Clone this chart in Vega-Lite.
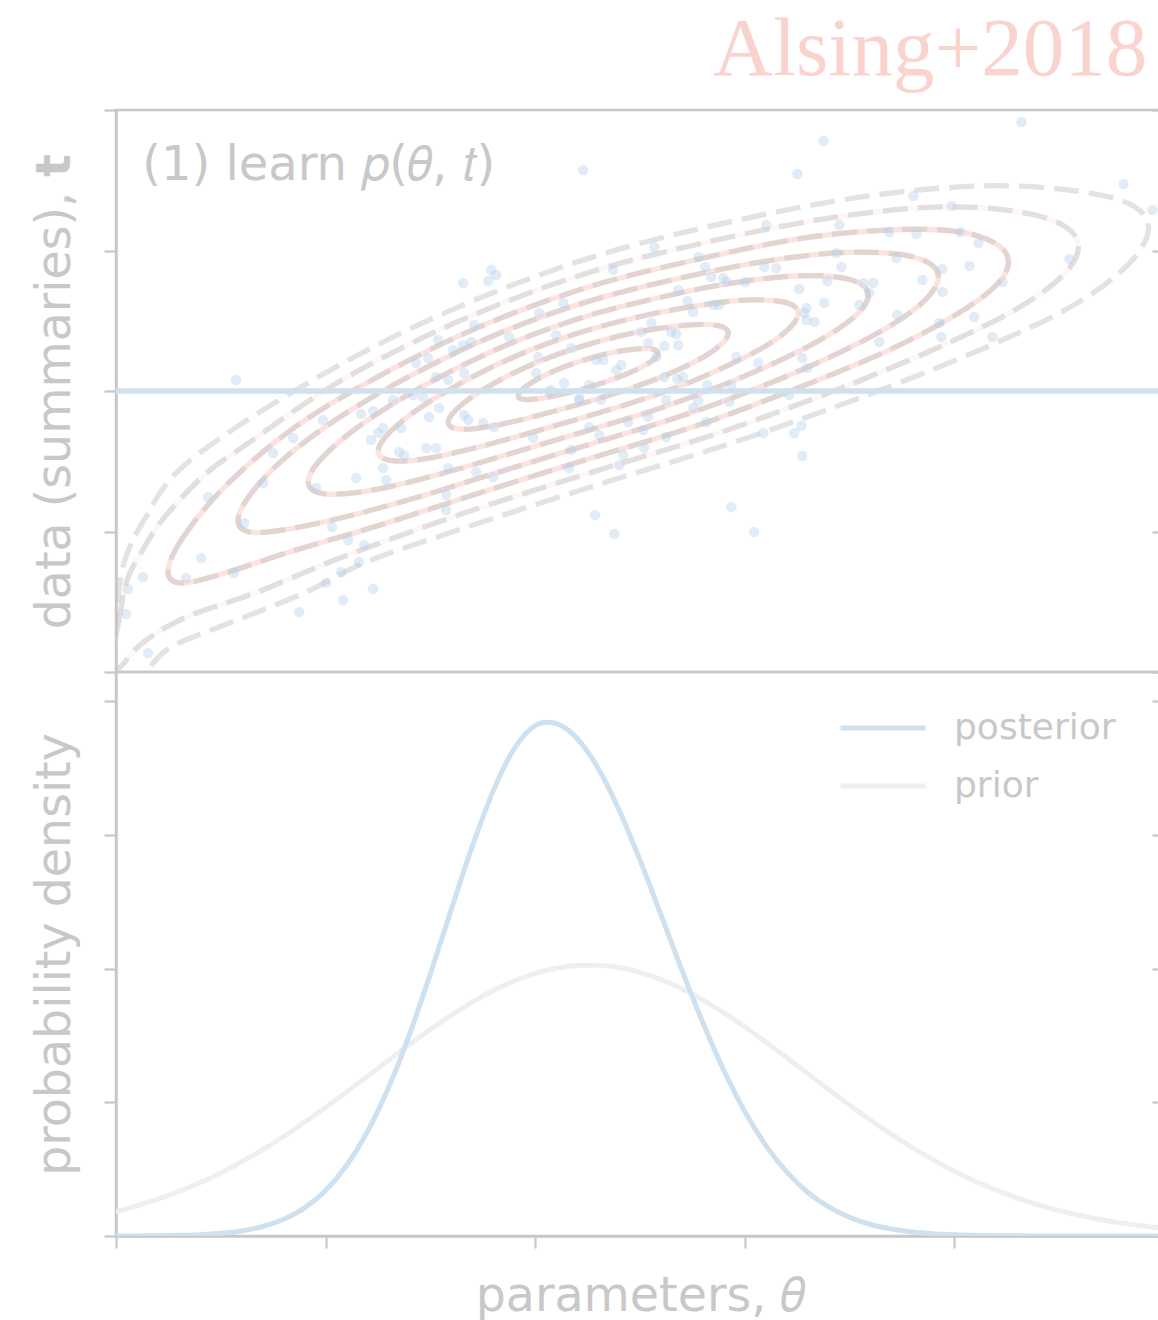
{
  "$schema": "https://vega.github.io/schema/vega-lite/v6.json",
  "background": "white",
  "autosize": {"type": "pad"},
  "padding": {"left": 30, "top": 7, "right": 0, "bottom": 0},
  "config": {
    "font": "DejaVu Sans",
    "view": {"stroke": "#c8c8c8", "strokeWidth": 2.5},
    "axis": {
      "grid": false,
      "labels": false,
      "domainColor": "#c8c8c8",
      "domainWidth": 2.5,
      "tickColor": "#c8c8c8",
      "tickWidth": 2.2,
      "tickSize": 12,
      "titleColor": "#c8c8c8",
      "titleFont": "DejaVu Sans",
      "titleFontSize": 47.5,
      "titleFontWeight": "normal"
    }
  },
  "spacing": 0,
  "bounds": "flush",
  "datasets": {
    "contours": [
      {"level": 1, "i": 0, "theta": 1.919, "t": 1.967}, {"level": 1, "i": 1, "theta": 1.930, "t": 1.998},
      {"level": 1, "i": 2, "theta": 1.964, "t": 2.041}, {"level": 1, "i": 3, "theta": 2.017, "t": 2.089},
      {"level": 1, "i": 4, "theta": 2.086, "t": 2.140}, {"level": 1, "i": 5, "theta": 2.166, "t": 2.187},
      {"level": 1, "i": 6, "theta": 2.253, "t": 2.230}, {"level": 1, "i": 7, "theta": 2.340, "t": 2.265},
      {"level": 1, "i": 8, "theta": 2.420, "t": 2.288}, {"level": 1, "i": 9, "theta": 2.489, "t": 2.300},
      {"level": 1, "i": 10, "theta": 2.542, "t": 2.301}, {"level": 1, "i": 11, "theta": 2.576, "t": 2.289},
      {"level": 1, "i": 12, "theta": 2.587, "t": 2.268}, {"level": 1, "i": 13, "theta": 2.576, "t": 2.237},
      {"level": 1, "i": 14, "theta": 2.542, "t": 2.199}, {"level": 1, "i": 15, "theta": 2.489, "t": 2.156},
      {"level": 1, "i": 16, "theta": 2.420, "t": 2.112}, {"level": 1, "i": 17, "theta": 2.340, "t": 2.067},
      {"level": 1, "i": 18, "theta": 2.253, "t": 2.026}, {"level": 1, "i": 19, "theta": 2.166, "t": 1.989},
      {"level": 1, "i": 20, "theta": 2.086, "t": 1.964}, {"level": 1, "i": 21, "theta": 2.017, "t": 1.945},
      {"level": 1, "i": 22, "theta": 1.964, "t": 1.939}, {"level": 1, "i": 23, "theta": 1.930, "t": 1.946},

      {"level": 2, "i": 0, "theta": 1.585, "t": 1.778}, {"level": 2, "i": 1, "theta": 1.608, "t": 1.844},
      {"level": 2, "i": 2, "theta": 1.674, "t": 1.932}, {"level": 2, "i": 3, "theta": 1.781, "t": 2.035},
      {"level": 2, "i": 4, "theta": 1.919, "t": 2.144}, {"level": 2, "i": 5, "theta": 2.080, "t": 2.246},
      {"level": 2, "i": 6, "theta": 2.253, "t": 2.332}, {"level": 2, "i": 7, "theta": 2.426, "t": 2.399},
      {"level": 2, "i": 8, "theta": 2.587, "t": 2.445}, {"level": 2, "i": 9, "theta": 2.725, "t": 2.469},
      {"level": 2, "i": 10, "theta": 2.832, "t": 2.473}, {"level": 2, "i": 11, "theta": 2.898, "t": 2.454},
      {"level": 2, "i": 12, "theta": 2.921, "t": 2.411}, {"level": 2, "i": 13, "theta": 2.898, "t": 2.348},
      {"level": 2, "i": 14, "theta": 2.832, "t": 2.269}, {"level": 2, "i": 15, "theta": 2.725, "t": 2.181},
      {"level": 2, "i": 16, "theta": 2.587, "t": 2.091}, {"level": 2, "i": 17, "theta": 2.426, "t": 2.005},
      {"level": 2, "i": 18, "theta": 2.253, "t": 1.924}, {"level": 2, "i": 19, "theta": 2.080, "t": 1.852},
      {"level": 2, "i": 20, "theta": 1.919, "t": 1.790}, {"level": 2, "i": 21, "theta": 1.781, "t": 1.747},
      {"level": 2, "i": 22, "theta": 1.674, "t": 1.728}, {"level": 2, "i": 23, "theta": 1.608, "t": 1.738},

      {"level": 3, "i": 0, "theta": 1.251, "t": 1.572}, {"level": 3, "i": 1, "theta": 1.285, "t": 1.673},
      {"level": 3, "i": 2, "theta": 1.385, "t": 1.809}, {"level": 3, "i": 3, "theta": 1.544, "t": 1.969},
      {"level": 3, "i": 4, "theta": 1.752, "t": 2.140}, {"level": 3, "i": 5, "theta": 1.993, "t": 2.301},
      {"level": 3, "i": 6, "theta": 2.253, "t": 2.434}, {"level": 3, "i": 7, "theta": 2.513, "t": 2.534},
      {"level": 3, "i": 8, "theta": 2.754, "t": 2.602}, {"level": 3, "i": 9, "theta": 2.962, "t": 2.644},
      {"level": 3, "i": 10, "theta": 3.121, "t": 2.646}, {"level": 3, "i": 11, "theta": 3.221, "t": 2.617},
      {"level": 3, "i": 12, "theta": 3.255, "t": 2.553}, {"level": 3, "i": 13, "theta": 3.221, "t": 2.459},
      {"level": 3, "i": 14, "theta": 3.121, "t": 2.340}, {"level": 3, "i": 15, "theta": 2.962, "t": 2.212},
      {"level": 3, "i": 16, "theta": 2.754, "t": 2.072}, {"level": 3, "i": 17, "theta": 2.513, "t": 1.942},
      {"level": 3, "i": 18, "theta": 2.253, "t": 1.822}, {"level": 3, "i": 19, "theta": 1.993, "t": 1.709},
      {"level": 3, "i": 20, "theta": 1.752, "t": 1.610}, {"level": 3, "i": 21, "theta": 1.544, "t": 1.537},
      {"level": 3, "i": 22, "theta": 1.385, "t": 1.503}, {"level": 3, "i": 23, "theta": 1.285, "t": 1.515},

      {"level": 4, "i": 0, "theta": 0.917, "t": 1.352}, {"level": 4, "i": 1, "theta": 0.962, "t": 1.489},
      {"level": 4, "i": 2, "theta": 1.096, "t": 1.677}, {"level": 4, "i": 3, "theta": 1.308, "t": 1.896},
      {"level": 4, "i": 4, "theta": 1.585, "t": 2.131}, {"level": 4, "i": 5, "theta": 1.907, "t": 2.354},
      {"level": 4, "i": 6, "theta": 2.253, "t": 2.536}, {"level": 4, "i": 7, "theta": 2.599, "t": 2.667},
      {"level": 4, "i": 8, "theta": 2.921, "t": 2.764}, {"level": 4, "i": 9, "theta": 3.198, "t": 2.815},
      {"level": 4, "i": 10, "theta": 3.410, "t": 2.816}, {"level": 4, "i": 11, "theta": 3.544, "t": 2.770},
      {"level": 4, "i": 12, "theta": 3.589, "t": 2.681}, {"level": 4, "i": 13, "theta": 3.544, "t": 2.558},
      {"level": 4, "i": 14, "theta": 3.410, "t": 2.408}, {"level": 4, "i": 15, "theta": 3.198, "t": 2.239},
      {"level": 4, "i": 16, "theta": 2.921, "t": 2.058}, {"level": 4, "i": 17, "theta": 2.599, "t": 1.879},
      {"level": 4, "i": 18, "theta": 2.253, "t": 1.720}, {"level": 4, "i": 19, "theta": 1.907, "t": 1.566},
      {"level": 4, "i": 20, "theta": 1.585, "t": 1.425}, {"level": 4, "i": 21, "theta": 1.308, "t": 1.320},
      {"level": 4, "i": 22, "theta": 1.096, "t": 1.269}, {"level": 4, "i": 23, "theta": 0.962, "t": 1.277},

      {"level": 5, "i": 0, "theta": 0.582, "t": 1.076}, {"level": 5, "i": 1, "theta": 0.639, "t": 1.260},
      {"level": 5, "i": 2, "theta": 0.806, "t": 1.523}, {"level": 5, "i": 3, "theta": 1.072, "t": 1.818},
      {"level": 5, "i": 4, "theta": 1.418, "t": 2.119}, {"level": 5, "i": 5, "theta": 1.820, "t": 2.406},
      {"level": 5, "i": 6, "theta": 2.253, "t": 2.638}, {"level": 5, "i": 7, "theta": 2.686, "t": 2.802},
      {"level": 5, "i": 8, "theta": 3.088, "t": 2.921}, {"level": 5, "i": 9, "theta": 3.434, "t": 2.983},
      {"level": 5, "i": 10, "theta": 3.700, "t": 2.979}, {"level": 5, "i": 11, "theta": 3.867, "t": 2.921},
      {"level": 5, "i": 12, "theta": 3.924, "t": 2.811}, {"level": 5, "i": 13, "theta": 3.867, "t": 2.657},
      {"level": 5, "i": 14, "theta": 3.700, "t": 2.469}, {"level": 5, "i": 15, "theta": 3.434, "t": 2.261},
      {"level": 5, "i": 16, "theta": 3.088, "t": 2.037}, {"level": 5, "i": 17, "theta": 2.686, "t": 1.816},
      {"level": 5, "i": 18, "theta": 2.253, "t": 1.618}, {"level": 5, "i": 19, "theta": 1.820, "t": 1.420},
      {"level": 5, "i": 20, "theta": 1.418, "t": 1.235}, {"level": 5, "i": 21, "theta": 1.072, "t": 1.096},
      {"level": 5, "i": 22, "theta": 0.806, "t": 1.013}, {"level": 5, "i": 23, "theta": 0.639, "t": 0.996},

      {"level": 6, "i": 0, "theta": 0.248, "t": 0.712}, {"level": 6, "i": 1, "theta": 0.317, "t": 0.951},
      {"level": 6, "i": 2, "theta": 0.517, "t": 1.315}, {"level": 6, "i": 3, "theta": 0.836, "t": 1.724},
      {"level": 6, "i": 4, "theta": 1.251, "t": 2.102}, {"level": 6, "i": 5, "theta": 1.734, "t": 2.456},
      {"level": 6, "i": 6, "theta": 2.253, "t": 2.740}, {"level": 6, "i": 7, "theta": 2.772, "t": 2.936},
      {"level": 6, "i": 8, "theta": 3.255, "t": 3.083}, {"level": 6, "i": 9, "theta": 3.670, "t": 3.145},
      {"level": 6, "i": 10, "theta": 3.989, "t": 3.139}, {"level": 6, "i": 11, "theta": 4.189, "t": 3.056},
      {"level": 6, "i": 12, "theta": 4.258, "t": 2.918}, {"level": 6, "i": 13, "theta": 4.189, "t": 2.738},
      {"level": 6, "i": 14, "theta": 3.989, "t": 2.527}, {"level": 6, "i": 15, "theta": 3.670, "t": 2.279},
      {"level": 6, "i": 16, "theta": 3.255, "t": 2.023}, {"level": 6, "i": 17, "theta": 2.772, "t": 1.754},
      {"level": 6, "i": 18, "theta": 2.253, "t": 1.516}, {"level": 6, "i": 19, "theta": 1.734, "t": 1.274},
      {"level": 6, "i": 20, "theta": 1.251, "t": 1.042}, {"level": 6, "i": 21, "theta": 0.836, "t": 0.858},
      {"level": 6, "i": 22, "theta": 0.517, "t": 0.703}, {"level": 6, "i": 23, "theta": 0.317, "t": 0.633},

      {"level": 7, "i": 0, "theta": -0.035, "t": -0.030}, {"level": 7, "i": 1, "theta": 0.014, "t": 0.370},
      {"level": 7, "i": 2, "theta": 0.053, "t": 0.655}, {"level": 7, "i": 3, "theta": 0.120, "t": 0.850},
      {"level": 7, "i": 4, "theta": 0.228, "t": 1.095}, {"level": 7, "i": 5, "theta": 0.420, "t": 1.400},
      {"level": 7, "i": 6, "theta": 0.600, "t": 1.597}, {"level": 7, "i": 7, "theta": 1.084, "t": 2.083},
      {"level": 7, "i": 8, "theta": 1.647, "t": 2.504}, {"level": 7, "i": 9, "theta": 2.253, "t": 2.842},
      {"level": 7, "i": 10, "theta": 2.859, "t": 3.073}, {"level": 7, "i": 11, "theta": 3.422, "t": 3.235},
      {"level": 7, "i": 12, "theta": 3.906, "t": 3.309}, {"level": 7, "i": 13, "theta": 4.278, "t": 3.282},
      {"level": 7, "i": 14, "theta": 4.512, "t": 3.185}, {"level": 7, "i": 15, "theta": 4.592, "t": 3.025},
      {"level": 7, "i": 16, "theta": 4.512, "t": 2.815}, {"level": 7, "i": 17, "theta": 4.278, "t": 2.568},
      {"level": 7, "i": 18, "theta": 3.906, "t": 2.299}, {"level": 7, "i": 19, "theta": 3.422, "t": 1.999},
      {"level": 7, "i": 20, "theta": 2.859, "t": 1.693}, {"level": 7, "i": 21, "theta": 2.253, "t": 1.414},
      {"level": 7, "i": 22, "theta": 1.647, "t": 1.124}, {"level": 7, "i": 23, "theta": 1.084, "t": 0.820},
      {"level": 7, "i": 24, "theta": 0.659, "t": 0.560}, {"level": 7, "i": 25, "theta": 0.340, "t": 0.394},
      {"level": 7, "i": 26, "theta": 0.134, "t": 0.216}, {"level": 7, "i": 27, "theta": 0.022, "t": 0.038},

      {"level": 8, "i": 0, "theta": -0.050, "t": -0.200}, {"level": 8, "i": 1, "theta": -0.010, "t": 0.250},
      {"level": 8, "i": 2, "theta": 0.005, "t": 0.463}, {"level": 8, "i": 3, "theta": 0.038, "t": 0.776},
      {"level": 8, "i": 4, "theta": 0.134, "t": 1.082}, {"level": 8, "i": 5, "theta": 0.339, "t": 1.488},
      {"level": 8, "i": 6, "theta": 0.917, "t": 2.059}, {"level": 8, "i": 7, "theta": 1.561, "t": 2.551},
      {"level": 8, "i": 8, "theta": 2.253, "t": 2.944}, {"level": 8, "i": 9, "theta": 2.945, "t": 3.209},
      {"level": 8, "i": 10, "theta": 3.589, "t": 3.388}, {"level": 8, "i": 11, "theta": 4.143, "t": 3.460},
      {"level": 8, "i": 12, "theta": 4.568, "t": 3.426}, {"level": 8, "i": 13, "theta": 4.835, "t": 3.331},
      {"level": 8, "i": 14, "theta": 4.926, "t": 3.160}, {"level": 8, "i": 15, "theta": 4.835, "t": 2.909},
      {"level": 8, "i": 16, "theta": 4.568, "t": 2.610}, {"level": 8, "i": 17, "theta": 4.143, "t": 2.306},
      {"level": 8, "i": 18, "theta": 3.589, "t": 1.974}, {"level": 8, "i": 19, "theta": 2.945, "t": 1.633},
      {"level": 8, "i": 20, "theta": 2.253, "t": 1.312}, {"level": 8, "i": 21, "theta": 1.561, "t": 0.975},
      {"level": 8, "i": 22, "theta": 1.184, "t": 0.776}, {"level": 8, "i": 23, "theta": 0.897, "t": 0.562},
      {"level": 8, "i": 24, "theta": 0.578, "t": 0.370}, {"level": 8, "i": 25, "theta": 0.263, "t": 0.178},
      {"level": 8, "i": 26, "theta": 0.143, "t": 0.000}, {"level": 8, "i": 27, "theta": 0.070, "t": -0.100}
    ],
    "samples": [
      {"theta": 2.229, "t": 3.573}, {"theta": 0.573, "t": 2.078}, {"theta": 1.656, "t": 2.769}, {"theta": 1.790, "t": 2.861},
      {"theta": 1.814, "t": 2.826}, {"theta": 1.776, "t": 2.783}, {"theta": 2.372, "t": 2.861}, {"theta": 2.134, "t": 2.626},
      {"theta": 2.019, "t": 2.555}, {"theta": 1.709, "t": 2.470}, {"theta": 1.876, "t": 2.384}, {"theta": 2.100, "t": 2.399},
      {"theta": 1.537, "t": 2.363}, {"theta": 1.609, "t": 2.292}, {"theta": 1.656, "t": 2.327}, {"theta": 1.695, "t": 2.349},
      {"theta": 1.489, "t": 2.235}, {"theta": 1.432, "t": 2.199}, {"theta": 2.172, "t": 2.306}, {"theta": 2.291, "t": 2.221},
      {"theta": 2.325, "t": 2.221}, {"theta": 2.411, "t": 2.185}, {"theta": 2.387, "t": 2.149}, {"theta": 2.014, "t": 2.242},
      {"theta": 1.661, "t": 2.128}, {"theta": 1.527, "t": 2.100}, {"theta": 1.585, "t": 2.078}, {"theta": 2.005, "t": 2.128},
      {"theta": 2.138, "t": 2.057}, {"theta": 2.258, "t": 2.043}, {"theta": 2.067, "t": 1.993}, {"theta": 2.210, "t": 1.950},
      {"theta": 4.320, "t": 3.915}, {"theta": 3.375, "t": 3.779}, {"theta": 3.251, "t": 3.544}, {"theta": 4.807, "t": 3.473},
      {"theta": 3.804, "t": 3.388}, {"theta": 3.986, "t": 3.317}, {"theta": 4.945, "t": 3.288}, {"theta": 3.103, "t": 3.181},
      {"theta": 3.451, "t": 3.181}, {"theta": 2.568, "t": 3.025}, {"theta": 3.690, "t": 3.132}, {"theta": 3.819, "t": 3.117},
      {"theta": 4.029, "t": 3.132}, {"theta": 4.115, "t": 3.053}, {"theta": 2.778, "t": 2.954}, {"theta": 3.437, "t": 2.982},
      {"theta": 3.723, "t": 2.947}, {"theta": 2.811, "t": 2.883}, {"theta": 3.093, "t": 2.883}, {"theta": 3.150, "t": 2.875},
      {"theta": 3.461, "t": 2.883}, {"theta": 4.072, "t": 2.890}, {"theta": 3.943, "t": 2.868}, {"theta": 2.840, "t": 2.811},
      {"theta": 2.897, "t": 2.804}, {"theta": 2.912, "t": 2.776}, {"theta": 3.002, "t": 2.776}, {"theta": 3.394, "t": 2.783},
      {"theta": 3.847, "t": 2.790}, {"theta": 4.229, "t": 2.776}, {"theta": 4.549, "t": 2.940}, {"theta": 2.683, "t": 2.719},
      {"theta": 3.260, "t": 2.726}, {"theta": 3.566, "t": 2.769}, {"theta": 3.613, "t": 2.769}, {"theta": 3.594, "t": 2.698},
      {"theta": 3.943, "t": 2.705}, {"theta": 2.726, "t": 2.641}, {"theta": 3.379, "t": 2.626}, {"theta": 3.547, "t": 2.612},
      {"theta": 2.850, "t": 2.612}, {"theta": 2.878, "t": 2.612}, {"theta": 2.754, "t": 2.562}, {"theta": 3.294, "t": 2.591},
      {"theta": 3.284, "t": 2.555}, {"theta": 3.294, "t": 2.505}, {"theta": 3.332, "t": 2.491}, {"theta": 3.728, "t": 2.541},
      {"theta": 4.095, "t": 2.527}, {"theta": 2.554, "t": 2.484}, {"theta": 3.928, "t": 2.484}, {"theta": 2.649, "t": 2.420},
      {"theta": 2.673, "t": 2.406}, {"theta": 2.539, "t": 2.342}, {"theta": 2.616, "t": 2.320}, {"theta": 2.683, "t": 2.327},
      {"theta": 3.642, "t": 2.349}, {"theta": 3.938, "t": 2.384}, {"theta": 4.181, "t": 2.384}, {"theta": 2.506, "t": 2.420},
      {"theta": 2.959, "t": 2.242}, {"theta": 3.064, "t": 2.199}, {"theta": 3.274, "t": 2.235}, {"theta": 3.298, "t": 2.164},
      {"theta": 2.616, "t": 2.100}, {"theta": 2.706, "t": 2.100}, {"theta": 2.678, "t": 2.085}, {"theta": 2.821, "t": 2.043},
      {"theta": 2.936, "t": 2.043}, {"theta": 3.212, "t": 1.972}, {"theta": 2.625, "t": 1.936}, {"theta": 2.578, "t": 2.242},
      {"theta": 0.988, "t": 1.794}, {"theta": 1.169, "t": 1.836}, {"theta": 1.227, "t": 1.858}, {"theta": 1.322, "t": 1.936},
      {"theta": 1.418, "t": 1.972}, {"theta": 1.465, "t": 1.957}, {"theta": 1.542, "t": 1.879}, {"theta": 1.494, "t": 1.815},
      {"theta": 1.661, "t": 1.829}, {"theta": 1.680, "t": 1.794}, {"theta": 1.752, "t": 1.772}, {"theta": 1.804, "t": 1.744},
      {"theta": 2.210, "t": 1.936}, {"theta": 2.315, "t": 1.936}, {"theta": 2.258, "t": 1.744}, {"theta": 2.305, "t": 1.687},
      {"theta": 2.444, "t": 1.779}, {"theta": 2.076, "t": 2.007}, {"theta": 1.990, "t": 1.665}, {"theta": 2.420, "t": 1.544},
      {"theta": 2.401, "t": 1.473}, {"theta": 2.172, "t": 1.580}, {"theta": 2.162, "t": 1.452}, {"theta": 1.274, "t": 1.737},
      {"theta": 1.251, "t": 1.701}, {"theta": 1.217, "t": 1.651}, {"theta": 1.360, "t": 1.737}, {"theta": 1.480, "t": 1.594},
      {"theta": 1.527, "t": 1.594}, {"theta": 1.351, "t": 1.566}, {"theta": 1.375, "t": 1.544}, {"theta": 1.274, "t": 1.452},
      {"theta": 1.289, "t": 1.367}, {"theta": 1.146, "t": 1.381}, {"theta": 1.585, "t": 1.452}, {"theta": 1.718, "t": 1.423},
      {"theta": 1.800, "t": 1.388}, {"theta": 1.575, "t": 1.260}, {"theta": 1.575, "t": 1.153}, {"theta": 0.749, "t": 1.559},
      {"theta": 0.845, "t": 1.665}, {"theta": 0.702, "t": 1.345}, {"theta": 0.955, "t": 1.310}, {"theta": 0.439, "t": 1.246},
      {"theta": 0.611, "t": 1.060}, {"theta": 1.031, "t": 1.032}, {"theta": 1.107, "t": 0.940}, {"theta": 1.184, "t": 0.904},
      {"theta": 0.406, "t": 0.811}, {"theta": 0.563, "t": 0.705}, {"theta": 0.334, "t": 0.669}, {"theta": 0.129, "t": 0.676},
      {"theta": 0.057, "t": 0.591}, {"theta": 0.048, "t": 0.413}, {"theta": 1.160, "t": 0.783}, {"theta": 1.074, "t": 0.712},
      {"theta": 1.002, "t": 0.633}, {"theta": 1.227, "t": 0.591}, {"theta": 1.084, "t": 0.512}, {"theta": 0.874, "t": 0.427},
      {"theta": 0.153, "t": 0.135}, {"theta": 2.286, "t": 1.117}, {"theta": 2.377, "t": 0.982}, {"theta": 2.778, "t": 1.929},
      {"theta": 2.926, "t": 1.922}, {"theta": 2.539, "t": 1.815}, {"theta": 2.754, "t": 1.879}, {"theta": 2.816, "t": 1.779},
      {"theta": 2.516, "t": 1.722}, {"theta": 2.625, "t": 1.673}, {"theta": 2.520, "t": 1.594}, {"theta": 3.088, "t": 1.701},
      {"theta": 3.270, "t": 1.751}, {"theta": 3.236, "t": 1.701}, {"theta": 3.274, "t": 1.537}, {"theta": 2.936, "t": 1.174},
      {"theta": 3.045, "t": 0.996}
    ],
    "densities": [
      {"curve": "prior", "theta": 0.0, "density": 0.183}, {"curve": "prior", "theta": 0.1, "density": 0.226},
      {"curve": "prior", "theta": 0.2, "density": 0.275}, {"curve": "prior", "theta": 0.3, "density": 0.333},
      {"curve": "prior", "theta": 0.4, "density": 0.398}, {"curve": "prior", "theta": 0.5, "density": 0.472},
      {"curve": "prior", "theta": 0.6, "density": 0.555}, {"curve": "prior", "theta": 0.7, "density": 0.645},
      {"curve": "prior", "theta": 0.8, "density": 0.744}, {"curve": "prior", "theta": 0.9, "density": 0.850},
      {"curve": "prior", "theta": 1.0, "density": 0.961}, {"curve": "prior", "theta": 1.1, "density": 1.077},
      {"curve": "prior", "theta": 1.2, "density": 1.195}, {"curve": "prior", "theta": 1.3, "density": 1.314},
      {"curve": "prior", "theta": 1.4, "density": 1.432}, {"curve": "prior", "theta": 1.5, "density": 1.545},
      {"curve": "prior", "theta": 1.6, "density": 1.652}, {"curve": "prior", "theta": 1.7, "density": 1.749},
      {"curve": "prior", "theta": 1.8, "density": 1.835}, {"curve": "prior", "theta": 1.9, "density": 1.907},
      {"curve": "prior", "theta": 2.0, "density": 1.963}, {"curve": "prior", "theta": 2.1, "density": 2.002},
      {"curve": "prior", "theta": 2.2, "density": 2.023}, {"curve": "prior", "theta": 2.3, "density": 2.024},
      {"curve": "prior", "theta": 2.4, "density": 2.007}, {"curve": "prior", "theta": 2.5, "density": 1.971},
      {"curve": "prior", "theta": 2.6, "density": 1.917}, {"curve": "prior", "theta": 2.7, "density": 1.848},
      {"curve": "prior", "theta": 2.8, "density": 1.764}, {"curve": "prior", "theta": 2.9, "density": 1.668},
      {"curve": "prior", "theta": 3.0, "density": 1.563}, {"curve": "prior", "theta": 3.1, "density": 1.451},
      {"curve": "prior", "theta": 3.2, "density": 1.334}, {"curve": "prior", "theta": 3.3, "density": 1.214},
      {"curve": "prior", "theta": 3.4, "density": 1.096}, {"curve": "prior", "theta": 3.5, "density": 0.979},
      {"curve": "prior", "theta": 3.6, "density": 0.867}, {"curve": "prior", "theta": 3.7, "density": 0.760},
      {"curve": "prior", "theta": 3.8, "density": 0.661}, {"curve": "prior", "theta": 3.9, "density": 0.569},
      {"curve": "prior", "theta": 4.0, "density": 0.485}, {"curve": "prior", "theta": 4.1, "density": 0.409},
      {"curve": "prior", "theta": 4.2, "density": 0.343}, {"curve": "prior", "theta": 4.3, "density": 0.284},
      {"curve": "prior", "theta": 4.4, "density": 0.233}, {"curve": "prior", "theta": 4.5, "density": 0.190},
      {"curve": "prior", "theta": 4.6, "density": 0.153}, {"curve": "prior", "theta": 4.7, "density": 0.122},
      {"curve": "prior", "theta": 4.8, "density": 0.0964}, {"curve": "prior", "theta": 4.9, "density": 0.0755},
      {"curve": "prior", "theta": 5.0, "density": 0.059},

      {"curve": "posterior", "theta": 0.0, "density": 0.0004}, {"curve": "posterior", "theta": 0.1, "density": 0.0009},
      {"curve": "posterior", "theta": 0.2, "density": 0.0022}, {"curve": "posterior", "theta": 0.3, "density": 0.0047},
      {"curve": "posterior", "theta": 0.4, "density": 0.0099}, {"curve": "posterior", "theta": 0.5, "density": 0.020},
      {"curve": "posterior", "theta": 0.6, "density": 0.038}, {"curve": "posterior", "theta": 0.7, "density": 0.071},
      {"curve": "posterior", "theta": 0.8, "density": 0.125}, {"curve": "posterior", "theta": 0.9, "density": 0.210},
      {"curve": "posterior", "theta": 1.0, "density": 0.340}, {"curve": "posterior", "theta": 1.1, "density": 0.527},
      {"curve": "posterior", "theta": 1.2, "density": 0.781}, {"curve": "posterior", "theta": 1.3, "density": 1.108},
      {"curve": "posterior", "theta": 1.4, "density": 1.506}, {"curve": "posterior", "theta": 1.5, "density": 1.961},
      {"curve": "posterior", "theta": 1.6, "density": 2.443}, {"curve": "posterior", "theta": 1.7, "density": 2.914},
      {"curve": "posterior", "theta": 1.8, "density": 3.330}, {"curve": "posterior", "theta": 1.9, "density": 3.643},
      {"curve": "posterior", "theta": 2.0, "density": 3.816}, {"curve": "posterior", "theta": 2.05, "density": 3.842},
      {"curve": "posterior", "theta": 2.1, "density": 3.832}, {"curve": "posterior", "theta": 2.2, "density": 3.720},
      {"curve": "posterior", "theta": 2.3, "density": 3.498}, {"curve": "posterior", "theta": 2.4, "density": 3.186},
      {"curve": "posterior", "theta": 2.5, "density": 2.810}, {"curve": "posterior", "theta": 2.6, "density": 2.402},
      {"curve": "posterior", "theta": 2.7, "density": 1.988}, {"curve": "posterior", "theta": 2.8, "density": 1.594},
      {"curve": "posterior", "theta": 2.9, "density": 1.238}, {"curve": "posterior", "theta": 3.0, "density": 0.931},
      {"curve": "posterior", "theta": 3.1, "density": 0.678}, {"curve": "posterior", "theta": 3.2, "density": 0.479},
      {"curve": "posterior", "theta": 3.3, "density": 0.327}, {"curve": "posterior", "theta": 3.4, "density": 0.217},
      {"curve": "posterior", "theta": 3.5, "density": 0.139}, {"curve": "posterior", "theta": 3.6, "density": 0.086},
      {"curve": "posterior", "theta": 3.7, "density": 0.052}, {"curve": "posterior", "theta": 3.8, "density": 0.030},
      {"curve": "posterior", "theta": 3.9, "density": 0.017}, {"curve": "posterior", "theta": 4.0, "density": 0.0093},
      {"curve": "posterior", "theta": 4.2, "density": 0.0025}, {"curve": "posterior", "theta": 4.4, "density": 0.0006},
      {"curve": "posterior", "theta": 4.6, "density": 0.0001}, {"curve": "posterior", "theta": 4.8, "density": 0.0},
      {"curve": "posterior", "theta": 5.0, "density": 0.0}
    ]
  },
  "vconcat": [
    {
      "width": 1048,
      "height": 562,
      "layer": [
        {
          "data": {"name": "contours"},
          "transform": [{"filter": "datum.level <= 6"}],
          "mark": {"type": "line", "interpolate": "cardinal-closed", "strokeWidth": 5.3, "color": "#fcdad4", "opacity": 0.75, "clip": true},
          "encoding": {
            "x": {"field": "theta", "type": "quantitative", "scale": {"domain": [0, 5], "nice": false, "zero": false}, "axis": null},
            "y": {"field": "t", "type": "quantitative", "scale": {"domain": [0, 4], "nice": false, "zero": false},
                  "axis": {"orient": "left", "values": [0, 1, 2, 3, 4], "title": "data (summaries), 𝘁", "titlePadding": 23}},
            "detail": {"field": "level", "type": "ordinal"},
            "order": {"field": "i", "type": "quantitative"}
          }
        },
        {
          "data": {"name": "contours"},
          "transform": [{"filter": "datum.level == 7"}],
          "mark": {"type": "line", "interpolate": "cardinal-closed", "strokeWidth": 5.3, "color": "#fcdad4", "opacity": 0.22, "clip": true},
          "encoding": {
            "x": {"field": "theta", "type": "quantitative"},
            "y": {"field": "t", "type": "quantitative"},
            "detail": {"field": "level", "type": "ordinal"},
            "order": {"field": "i", "type": "quantitative"}
          }
        },
        {
          "data": {"name": "contours"},
          "mark": {"type": "line", "interpolate": "cardinal-closed", "strokeWidth": 5.3, "color": "#c2c2c2", "opacity": 0.45, "strokeDash": [25, 10], "clip": true},
          "encoding": {
            "x": {"field": "theta", "type": "quantitative"},
            "y": {"field": "t", "type": "quantitative"},
            "detail": {"field": "level", "type": "ordinal"},
            "order": {"field": "i", "type": "quantitative"}
          }
        },
        {
          "data": {"name": "samples"},
          "mark": {"type": "circle", "size": 110, "color": "#b4d0ea", "opacity": 0.4, "clip": true},
          "encoding": {
            "x": {"field": "theta", "type": "quantitative"},
            "y": {"field": "t", "type": "quantitative",
                  "axis": {"orient": "right", "values": [0, 1, 2, 3, 4], "title": null, "domain": false, "offset": -12}}
          }
        },
        {
          "data": {"values": [{"t_obs": 2.0}]},
          "mark": {"type": "rule", "color": "#cfe1ee", "strokeWidth": 5.5},
          "encoding": {"y": {"field": "t_obs", "type": "quantitative"}}
        },
        {
          "data": {"values": [{}]},
          "mark": {"type": "text", "text": "(1) learn 𝑝(𝜃, 𝑡)", "align": "left", "baseline": "alphabetic", "font": "DejaVu Sans", "fontSize": 48, "color": "#c8c8c8"},
          "encoding": {"x": {"datum": 0.125}, "y": {"datum": 3.502}}
        },
        {
          "data": {"values": [{}]},
          "mark": {"type": "text", "text": "Alsing+2018", "align": "right", "baseline": "alphabetic", "font": "Liberation Serif", "fontSize": 83, "color": "#fbd3ce", "clip": false},
          "encoding": {"x": {"datum": 4.92}, "y": {"datum": 4.25}}
        }
      ],
      "resolve": {"axis": {"y": "independent"}}
    },
    {
      "width": 1048,
      "height": 564,
      "layer": [
        {
          "data": {"name": "densities"},
          "transform": [{"filter": "datum.curve === 'prior'"}],
          "mark": {"type": "line", "strokeWidth": 5, "interpolate": "monotone", "clip": true},
          "encoding": {
            "x": {"field": "theta", "type": "quantitative", "scale": {"domain": [0, 5], "nice": false, "zero": false},
                  "axis": {"orient": "bottom", "values": [0, 1, 2, 3, 4], "title": "parameters, 𝜃", "titlePadding": 23}},
            "y": {"field": "density", "type": "quantitative", "scale": {"domain": [0, 4.217], "nice": false},
                  "axis": {"orient": "left", "values": [0, 1, 2, 3, 4], "title": "probability density", "titlePadding": 23}},
            "color": {"field": "curve", "type": "nominal",
                      "scale": {"domain": ["posterior", "prior"], "range": ["#cfe1ee", "#efefef"]},
                      "legend": {"title": null, "orient": "none", "legendX": 749, "legendY": 600, "padding": 0,
                                 "symbolType": "M-3,0L3,0", "symbolSize": 803, "symbolStrokeWidth": 5,
                                 "labelFont": "DejaVu Sans", "labelFontSize": 36, "labelColor": "#c8c8c8",
                                 "labelOffset": 53, "labelLimit": 400, "rowPadding": 22}}
          }
        },
        {
          "data": {"name": "densities"},
          "transform": [{"filter": "datum.curve === 'posterior'"}],
          "mark": {"type": "line", "strokeWidth": 5, "interpolate": "monotone", "clip": true},
          "encoding": {
            "x": {"field": "theta", "type": "quantitative"},
            "y": {"field": "density", "type": "quantitative",
                  "axis": {"orient": "right", "values": [0, 1, 2, 3, 4], "title": null, "domain": false, "offset": -12}},
            "color": {"field": "curve", "type": "nominal"}
          }
        }
      ],
      "resolve": {"axis": {"y": "independent"}}
    }
  ]
}
